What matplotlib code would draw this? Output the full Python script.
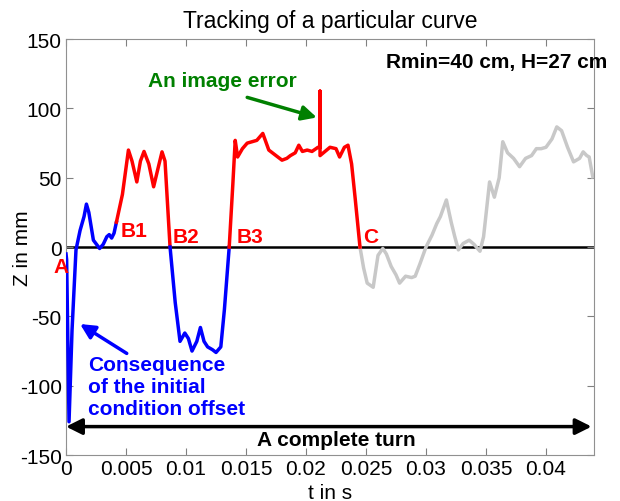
import numpy as np
import matplotlib
matplotlib.use("Agg")
import matplotlib.pyplot as plt

plt.rcParams['font.family'] = ['Liberation Sans', 'DejaVu Sans']
plt.rcParams['axes.unicode_minus'] = False

# curve pieces (t in s, Z in mm)
t_blue1 = [0.0, 0.00005, 0.00025, 0.0005, 0.00083, 0.00117, 0.0015, 0.0017, 0.0019,
           0.00228, 0.0028, 0.0031, 0.0034, 0.0036, 0.0038, 0.0040, 0.0042]
z_blue1 = [-5, -9, -126, -60, -2, 12, 22, 31, 25, 5, -1, 2, 7.5, 9, 6.5, 10, 18]

t_red1 = [0.0042, 0.0047, 0.0052, 0.0055, 0.0059, 0.0062, 0.0065, 0.0069, 0.0073,
          0.0077, 0.0080, 0.00825, 0.00867]
z_red1 = [18, 38, 70, 62, 47, 62, 69, 60, 43.5, 58, 68.7, 62, 0]

t_blue2 = [0.00867, 0.0091, 0.0095, 0.0099, 0.0102, 0.0105, 0.0109, 0.0112, 0.0115,
           0.0118, 0.0122, 0.0125, 0.0129, 0.0132, 0.0136]
z_blue2 = [0, -40, -68, -62, -66, -75, -68, -58, -68, -72, -74, -76, -72, -45, 0]

t_red2 = [0.0136, 0.0139, 0.0141, 0.0143, 0.0147, 0.0151, 0.0155, 0.0159, 0.0164,
          0.0169, 0.0175, 0.0180, 0.0184, 0.0187, 0.0191, 0.0194, 0.0197, 0.0201,
          0.0205, 0.0210, 0.02117, 0.02117, 0.02117, 0.0220, 0.0225, 0.0228,
          0.0232, 0.0235, 0.0238, 0.0241, 0.0245]
z_red2 = [0, 45, 77, 65, 71, 75, 76, 77, 82, 70, 66, 62.7, 64, 66, 68, 73.5, 69, 70,
          69, 72, 72, 112.5, 66, 72, 71, 65, 72, 73.5, 60, 35, 0]

t_gray = [0.0245, 0.0248, 0.0251, 0.0256, 0.0260, 0.0264, 0.0267, 0.0271, 0.0275,
          0.0278, 0.0283, 0.0288, 0.0291, 0.0295, 0.0300, 0.0305, 0.0309, 0.0312,
          0.0317, 0.0321, 0.0324, 0.0327, 0.0331, 0.0336, 0.0340, 0.0345, 0.0348,
          0.0353, 0.0357, 0.0361, 0.0364, 0.0368, 0.0373, 0.0378, 0.0383, 0.0388,
          0.0392, 0.0396, 0.0400, 0.0405, 0.0409, 0.0413, 0.0418, 0.0423, 0.0428,
          0.0431, 0.0434, 0.0436, 0.0439]
z_gray = [0, -15, -26, -29, -6, -1, -5, -14, -20, -26, -21, -22, -21, -12, 0, 8.6,
          17, 22, 34, 18, 7.5, -2, 2.6, 5, 2, -3, 7.5, 47, 36, 50, 76, 68, 64,
          58, 64, 66, 71, 71, 72, 78, 86.7, 84, 72, 61.5, 64, 68.7, 66, 65, 50.7]

labels = ['A', 'B1', 'B2', 'B3', 'C']
label_t = [-0.0004, 0.0057, 0.0100, 0.0153, 0.0254]
label_z = [-14, 12, 7.5, 7.5, 7.5]

blue = '#0000ff'
red = '#ff0000'
gray = '#c8c8c8'
green = '#008000'

fig = plt.figure(figsize=(6.2, 5.02), dpi=100)
ax = fig.add_axes([0.1065, 0.0916, 0.8515, 0.8284])

ax.axhline(0, color='black', lw=1.8, zorder=1)
ax.plot(t_gray, z_gray, color=gray, lw=2.5, zorder=2)
ax.plot(t_blue1, z_blue1, color=blue, lw=2.5, zorder=3)
ax.plot(t_red1, z_red1, color=red, lw=2.5, zorder=3)
ax.plot(t_blue2, z_blue2, color=blue, lw=2.5, zorder=3)
ax.plot(t_red2, z_red2, color=red, lw=2.5, zorder=3)

for lab, tx, tz in zip(labels, label_t, label_z):
    ax.text(tx, tz, lab, color=red, fontsize=15, fontweight='bold',
            ha='center', va='center', clip_on=False)

# complete turn arrow
ax.annotate('', xy=(0.0438, -129.5), xytext=(0.0, -129.5),
            arrowprops=dict(arrowstyle='<|-|>', color='black', lw=2.5,
                            mutation_scale=24, shrinkA=0, shrinkB=0))
ax.text(0.0225, -138.5, 'A complete turn', fontsize=15, fontweight='bold',
        ha='center', va='center')

# image error arrow
ax.annotate('', xy=(0.0209, 93.5), xytext=(0.0151, 108),
            arrowprops=dict(arrowstyle='-|>', color=green, lw=2.5,
                            mutation_scale=22, shrinkA=0, shrinkB=0))
ax.text(0.0130, 120, 'An image error', color=green, fontsize=15,
        fontweight='bold', ha='center', va='center')

# initial offset arrow
ax.annotate('', xy=(0.00117, -55.5), xytext=(0.00506, -76.7),
            arrowprops=dict(arrowstyle='-|>', color=blue, lw=2.5,
                            mutation_scale=22, shrinkA=0, shrinkB=0))
ax.text(0.00186, -100.7, 'Consequence\nof the initial\ncondition offset',
        color=blue, fontsize=15, fontweight='bold', ha='left', va='center',
        linespacing=1.2)

ax.text(0.0267, 134, 'Rmin=40 cm, H=27 cm', fontsize=15, fontweight='bold',
        ha='left', va='center', clip_on=False)

ax.set_xlim(0, 0.044)
ax.set_ylim(-150, 150)
ax.set_xticks([0, 0.005, 0.01, 0.015, 0.02, 0.025, 0.03, 0.035, 0.04])
ax.set_xticklabels(['0', '0.005', '0.01', '0.015', '0.02', '0.025', '0.03', '0.035', '0.04'])
ax.set_yticks([-150, -100, -50, 0, 50, 100, 150])
ax.tick_params(direction='in', top=True, right=True, length=5, color='#808080',
               labelsize=15, pad=3)
for s in ax.spines.values():
    s.set_color('#909090')

ax.set_title('Tracking of a particular curve', fontsize=16.5, pad=9)
ax.set_xlabel('t in s', fontsize=15)
ax.set_ylabel('Z in mm', fontsize=15)
ax.xaxis.set_label_coords(0.5, -0.068)
ax.yaxis.set_label_coords(-0.064, 0.5)

plt.savefig('out.png', dpi=100)
